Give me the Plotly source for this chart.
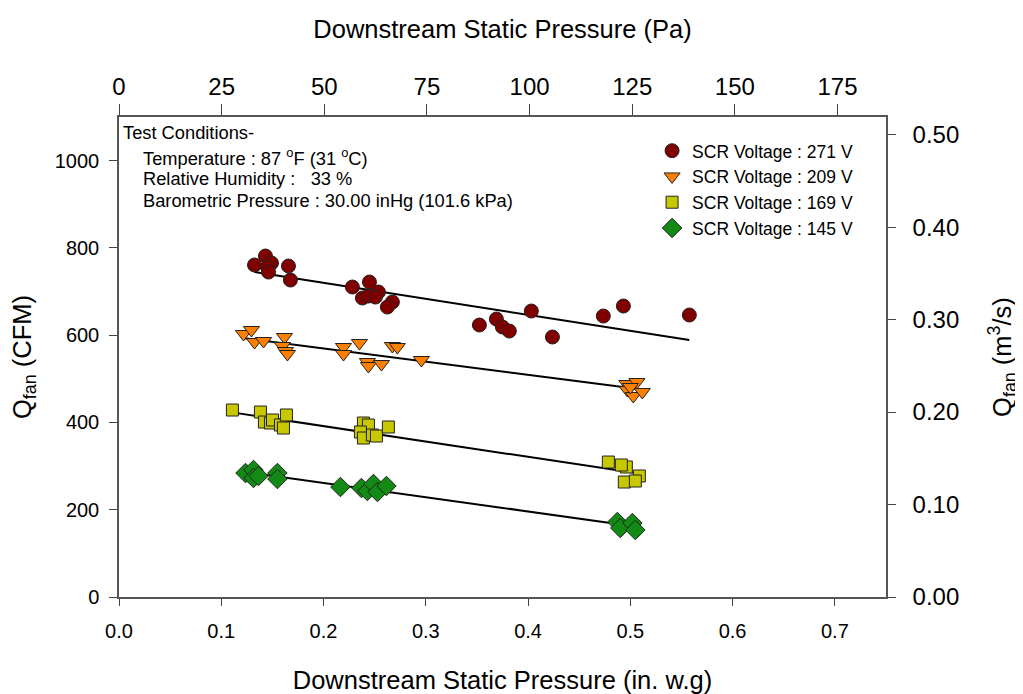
import numpy as np
import plotly.graph_objects as go

# Unit conversions for secondary axes
CFM_TO_M3S = 0.000471947
INWG_TO_PA = 249.089

# ---- Data (x: downstream static pressure in in. w.g, q: Q_fan in CFM) ----
names = ["SCR Voltage : 271 V", "SCR Voltage : 209 V",
         "SCR Voltage : 169 V", "SCR Voltage : 145 V"]

x_271 = [0.1325, 0.1432, 0.1491, 0.1452, 0.1462, 0.1657, 0.1676, 0.2282, 0.2449,
         0.2537, 0.2380, 0.2439, 0.2507, 0.2673, 0.2624, 0.3524, 0.3690, 0.3749,
         0.3817, 0.4032, 0.4238, 0.4736, 0.4932, 0.5577]
q_271 = [760.8, 781.4, 765.4, 756.2, 744.7, 758.5, 726.4, 710.4, 721.8,
         698.9, 685.2, 689.7, 687.4, 676.0, 664.5, 623.3, 637.0, 618.7,
         609.5, 655.4, 595.8, 643.9, 666.8, 646.2]

x_209 = [0.1217, 0.1295, 0.1325, 0.1413, 0.1618, 0.1598, 0.1628, 0.1647, 0.2195,
         0.2195, 0.2351, 0.2429, 0.2439, 0.2566, 0.2673, 0.2722, 0.2957,
         0.4966, 0.5064, 0.4971, 0.5029, 0.5117, 0.5000]
q_209 = [602.7, 611.8, 584.3, 586.6, 595.8, 575.2, 563.7, 556.8, 572.9,
         556.8, 582.0, 538.5, 529.3, 533.9, 575.2, 572.9, 543.1,
         488.1, 492.7, 474.3, 460.6, 469.8, 481.2]

x_169 = [0.1109, 0.1383, 0.1422, 0.1481, 0.1501, 0.1579, 0.1608, 0.1637, 0.2390,
         0.2439, 0.2361, 0.2390, 0.2478, 0.2517, 0.2634,
         0.4785, 0.4961, 0.4912, 0.5088, 0.4941, 0.5049]
q_169 = [428.5, 423.9, 401.0, 398.7, 405.6, 394.2, 387.3, 417.1, 398.7,
         394.2, 378.1, 364.3, 371.2, 368.9, 389.6,
         309.3, 297.9, 302.5, 277.3, 263.5, 265.8]

x_145 = [0.1237, 0.1315, 0.1315, 0.1364, 0.1549, 0.1549, 0.2165, 0.2370, 0.2429,
         0.2488, 0.2527, 0.2615, 0.4873, 0.4902, 0.5020, 0.5049]
q_145 = [284.1, 291.0, 272.7, 277.3, 284.1, 270.4, 252.1, 249.8, 242.9,
         258.9, 240.6, 254.4, 171.9, 158.1, 169.6, 153.5]

# Axis ranges / ticks
x_range = [0.0, 0.75]
x_ticks = [0.0, 0.1, 0.2, 0.3, 0.4, 0.5, 0.6, 0.7]
pa_ticks = [0, 25, 50, 75, 100, 125, 150, 175]
q_range = [0, 1100]
q_ticks = [0, 200, 400, 600, 800, 1000]
m3s_ticks = [0.0, 0.1, 0.2, 0.3, 0.4, 0.5]

xs = [x_271, x_209, x_169, x_145]
qs = [q_271, q_209, q_169, q_145]
colors = ["#800000", "#FF8000", "#C8C800", "#138A13"]
symbols = ["circle", "triangle-down", "square", "diamond"]
sizes = [14, 14, 12, 15]

FONT = "Arial, Liberation Sans, Helvetica, sans-serif"

fig = go.Figure()

# Regression lines first (under markers)
for x, q in zip(xs, qs):
    x = np.array(x); q = np.array(q)
    m, b = np.polyfit(x, q, 1)
    xl = np.array([x.min(), x.max()])
    fig.add_trace(go.Scatter(x=xl, y=m * xl + b, mode="lines",
                             line=dict(color="black", width=2),
                             showlegend=False, hoverinfo="skip"))

for x, q, n, c, s, sz in zip(xs, qs, names, colors, symbols, sizes):
    fig.add_trace(go.Scatter(x=x, y=q, mode="markers", name=n,
                             marker=dict(color=c, symbol=s, size=sz,
                                         line=dict(color="#222222", width=1))))

axis_line = dict(showline=True, linecolor="#555555", linewidth=1.5,
                 ticks="outside", tickcolor="#444444", tickwidth=1,
                 showgrid=False, zeroline=False, mirror=False)

# figure is offset by the page's 8px body margin
W, H = 1015, 686
fig.update_layout(
    width=W, height=H,
    margin=dict(l=111, r=137, t=109, b=97, autoexpand=False),
    paper_bgcolor="white", plot_bgcolor="white",
    font=dict(family=FONT, color="black"),
    xaxis=dict(range=x_range, tickvals=x_ticks, tickformat=".1f", ticklen=7,
               tickfont=dict(size=20), ticklabelstandoff=8,
               title=dict(text="Downstream Static Pressure (in. w.g)",
                          font=dict(size=25.5), standoff=31),
               **axis_line),
    xaxis2=dict(range=[x_range[0] * INWG_TO_PA, x_range[1] * INWG_TO_PA],
                tickvals=pa_ticks, overlaying="x", side="top", anchor="y",
                ticklen=11, tickfont=dict(size=24), ticklabelstandoff=0,
                title=dict(text="Downstream Static Pressure (Pa)",
                           font=dict(size=25.5), standoff=27),
                **axis_line),
    yaxis=dict(range=q_range, tickvals=q_ticks, ticklen=8,
               tickfont=dict(size=20), ticklabelstandoff=6,
               title=dict(text="Q<sub>fan</sub> (CFM)", font=dict(size=25.5),
                          standoff=20),
               **axis_line),
    yaxis2=dict(range=[q_range[0] * CFM_TO_M3S, q_range[1] * CFM_TO_M3S],
                tickvals=m3s_ticks, tickformat=".2f", overlaying="y",
                side="right", anchor="x", ticklen=8, tickfont=dict(size=24),
                ticklabelstandoff=12,
                title=dict(text="Q<sub>fan</sub> (m<sup>3</sup>/s)",
                           font=dict(size=25.5), standoff=35),
                **axis_line),
    legend=dict(x=0.695, y=0.967, xanchor="left", yanchor="top",
                bgcolor="rgba(0,0,0,0)", font=dict(size=17.5),
                tracegroupgap=0, itemsizing="trace"),
)

# Invisible trace to activate the secondary axes
fig.add_trace(go.Scatter(x=[x_range[0] * INWG_TO_PA], y=[q_range[0] * CFM_TO_M3S],
                         xaxis="x2", yaxis="y2", mode="markers",
                         marker=dict(opacity=0), showlegend=False,
                         hoverinfo="skip"))

# plot area in window pixels: x 119..886, y 117..597
notes = [("Test Conditions-", 121, 132),
         ("Temperature : 87 <sup>o</sup>F (31 <sup>o</sup>C)", 141, 157),
         ("Relative Humidity :\u00a0\u00a0\u00a033 %", 141, 178),
         ("Barometric Pressure : 30.00 inHg (101.6 kPa)", 141, 200)]
for text, xpx, ypx in notes:
    fig.add_annotation(text=text, x=(xpx - 119) / 767, y=(597 - ypx) / 480,
                       xref="paper", yref="paper", xanchor="left",
                       yanchor="middle", showarrow=False,
                       font=dict(size=18.3, color="black"))

fig.write_html("out.html")
